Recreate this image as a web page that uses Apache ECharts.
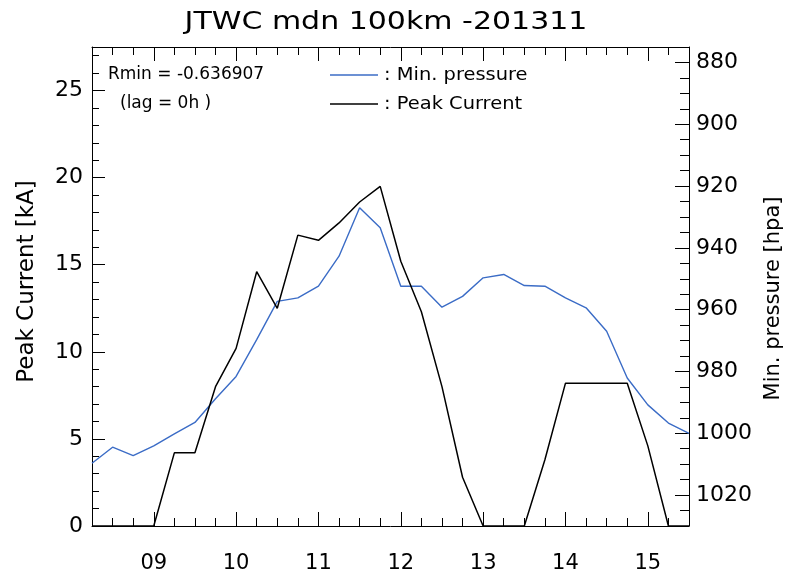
<!DOCTYPE html>
<html>
<head>
<meta charset="utf-8">
<script src="https://cdn.jsdelivr.net/npm/echarts@6/dist/echarts.min.js"></script>
<style>
html,body{margin:0;padding:0;background:#fff;}
#chart{width:785px;height:574px;}
</style>
</head>
<body>
<div id="chart"></div>
<script>
// time in days of Nov 2013 (6-hourly)
var days = [8.25, 8.5, 8.75, 9.0, 9.25, 9.5, 9.75, 10.0, 10.25, 10.5, 10.75, 11.0, 11.25, 11.5, 11.75,
            12.0, 12.25, 12.5, 12.75, 13.0, 13.25, 13.5, 13.75, 14.0, 14.25, 14.5, 14.75, 15.0, 15.25, 15.5];
// minimum pressure [hPa]
var pressure = [1009.7, 1004.5, 1007.2, 1004.1, 1000.2, 996.5, 988.8, 981.6, 969.7, 957.3, 956.2, 952.4, 942.7, 927.0, 933.5,
                952.4, 952.4, 959.2, 955.7, 949.7, 948.6, 952.2, 952.4, 956.2, 959.4, 967.0, 982.1, 990.8, 996.7, 1000.0];
// peak current [kA]
var current = [0, 0, 0, 0, 4.2, 4.2, 8.0, 10.2, 14.6, 12.5, 16.7, 16.4, 17.4, 18.6, 19.5,
               15.2, 12.3, 8.0, 2.8, 0, 0, 0, 3.8, 8.2, 8.2, 8.2, 8.2, 4.6, 0, 0];

var dayTicks = [9, 10, 11, 12, 13, 14, 15];
var dayLabels = ['09', '10', '11', '12', '13', '14', '15'];
var currentTicks = [0, 5, 10, 15, 20, 25];
var pressureTicks = [880, 900, 920, 940, 960, 980, 1000, 1020];

var titleText = 'JTWC mdn 100km -201311';
var rminText = 'Rmin = -0.636907';
var lagText = '(lag = 0h )';
var pressName = 'Min. pressure';
var currName = 'Peak Current';

function range(a, b, step, skip) {
  var out = [];
  for (var v = a; v <= b + 1e-9; v += step) {
    var r = Math.round(v * 1000) / 1000;
    if (skip && Math.abs(r / skip - Math.round(r / skip)) < 1e-6) continue;
    out.push(r);
  }
  return out;
}
var dayMinor = range(8.5, 15.25, 0.25, 1);
var currMinor = range(1, 27, 1, 5);
var pressMinor = range(880, 1025, 5, 20);

var FONT = 'DejaVu Sans';
var BLUE = '#3b6cc6';
var line = {color: '#000', width: 1};

var chart = echarts.init(document.getElementById('chart'), null, {renderer: 'canvas'});

function xAx(pos, ticks, len, withLabel, showLine) {
  return {
    type: 'value', position: pos, min: 8.25, max: 15.5,
    axisLine: {show: showLine, onZero: false, lineStyle: line},
    axisTick: {show: true, inside: true, length: len, customValues: ticks, lineStyle: line},
    axisLabel: withLabel ? {
      show: true, customValues: dayTicks, margin: 27, fontFamily: FONT, fontSize: 21, color: '#000',
      formatter: function (v) { var i = dayTicks.indexOf(Math.round(v)); return i >= 0 ? dayLabels[i] : ''; }
    } : {show: false},
    splitLine: {show: false}
  };
}

var option = {
  backgroundColor: '#fff',
  animation: false,
  grid: {left: 92, right: 96, top: 47, bottom: 48, containLabel: false, outerBoundsMode: 'none'},
  xAxis: [
    xAx('bottom', dayTicks, 14, true, true),
    xAx('bottom', dayMinor, 8, false, false),
    xAx('top', dayTicks, 14, false, true),
    xAx('top', dayMinor, 8, false, false)
  ],
  yAxis: [
    {
      type: 'value', position: 'left', min: 0, max: 27.5,
      axisLine: {show: true, onZero: false, lineStyle: line},
      axisTick: {show: true, inside: true, length: 13, customValues: currentTicks, lineStyle: line},
      axisLabel: {show: true, customValues: currentTicks, margin: 9, fontFamily: FONT, fontSize: 22, color: '#000'},
      splitLine: {show: false},
      name: 'Peak Current [kA]', nameLocation: 'middle', nameRotate: 90, nameGap: 53,
      nameTextStyle: {fontFamily: FONT, fontSize: 23, color: '#000', padding: [0, 0, 0, 10]}
    },
    {
      type: 'value', position: 'left', min: 0, max: 27.5,
      axisLine: {show: false, onZero: false},
      axisTick: {show: true, inside: true, length: 7, customValues: currMinor, lineStyle: line},
      axisLabel: {show: false}, splitLine: {show: false}
    },
    {
      type: 'value', position: 'right', min: 875, max: 1030, inverse: true,
      axisLine: {show: true, onZero: false, lineStyle: line},
      axisTick: {show: true, inside: true, length: 14, customValues: pressureTicks, lineStyle: line},
      axisLabel: {show: true, customValues: pressureTicks, margin: 7, fontFamily: FONT, fontSize: 22, color: '#000',
                  formatter: function (v) { return String(v); }},
      splitLine: {show: false},
      name: 'Min. pressure [hpa]', nameLocation: 'middle', nameRotate: 90, nameGap: 72,
      nameTextStyle: {fontFamily: FONT, fontSize: 21, color: '#000', padding: [0, 24, 0, 0]}
    },
    {
      type: 'value', position: 'right', min: 875, max: 1030, inverse: true,
      axisLine: {show: false, onZero: false},
      axisTick: {show: true, inside: true, length: 9, customValues: pressMinor, lineStyle: line},
      axisLabel: {show: false}, splitLine: {show: false}
    }
  ],
  series: [
    {
      name: currName, type: 'line', xAxisIndex: 0, yAxisIndex: 0,
      data: days.map(function (d, i) { return [d, current[i]]; }),
      showSymbol: false, clip: true,
      lineStyle: {color: '#000', width: 1.5}, z: 3
    },
    {
      name: pressName, type: 'line', xAxisIndex: 0, yAxisIndex: 2,
      data: days.map(function (d, i) { return [d, pressure[i]]; }),
      showSymbol: false, clip: true,
      lineStyle: {color: BLUE, width: 1.4}, z: 2
    }
  ],
  graphic: [
    {type: 'text', x: 386, y: 22, scaleX: 1.2,
     style: {text: titleText, fontFamily: FONT, fontSize: 25, fill: '#000', align: 'center', verticalAlign: 'middle'}},
    {type: 'text', left: 108, top: 66, style: {text: rminText, fontFamily: FONT, fontSize: 17, fill: '#000'}},
    {type: 'text', left: 120, top: 95, style: {text: lagText, fontFamily: FONT, fontSize: 17, fill: '#000'}},
    {type: 'line', shape: {x1: 330, y1: 75, x2: 378, y2: 75}, style: {stroke: BLUE, lineWidth: 1.5}},
    {type: 'line', shape: {x1: 330, y1: 104, x2: 378, y2: 104}, style: {stroke: '#000', lineWidth: 1.5}},
    {type: 'text', x: 384, y: 75, scaleX: 1.08,
     style: {text: ': ' + pressName, fontFamily: FONT, fontSize: 18, fill: '#000', verticalAlign: 'middle'}},
    {type: 'text', x: 384, y: 104, scaleX: 1.08,
     style: {text: ': ' + currName, fontFamily: FONT, fontSize: 18, fill: '#000', verticalAlign: 'middle'}}
  ]
};
chart.setOption(option);
</script>
</body>
</html>
